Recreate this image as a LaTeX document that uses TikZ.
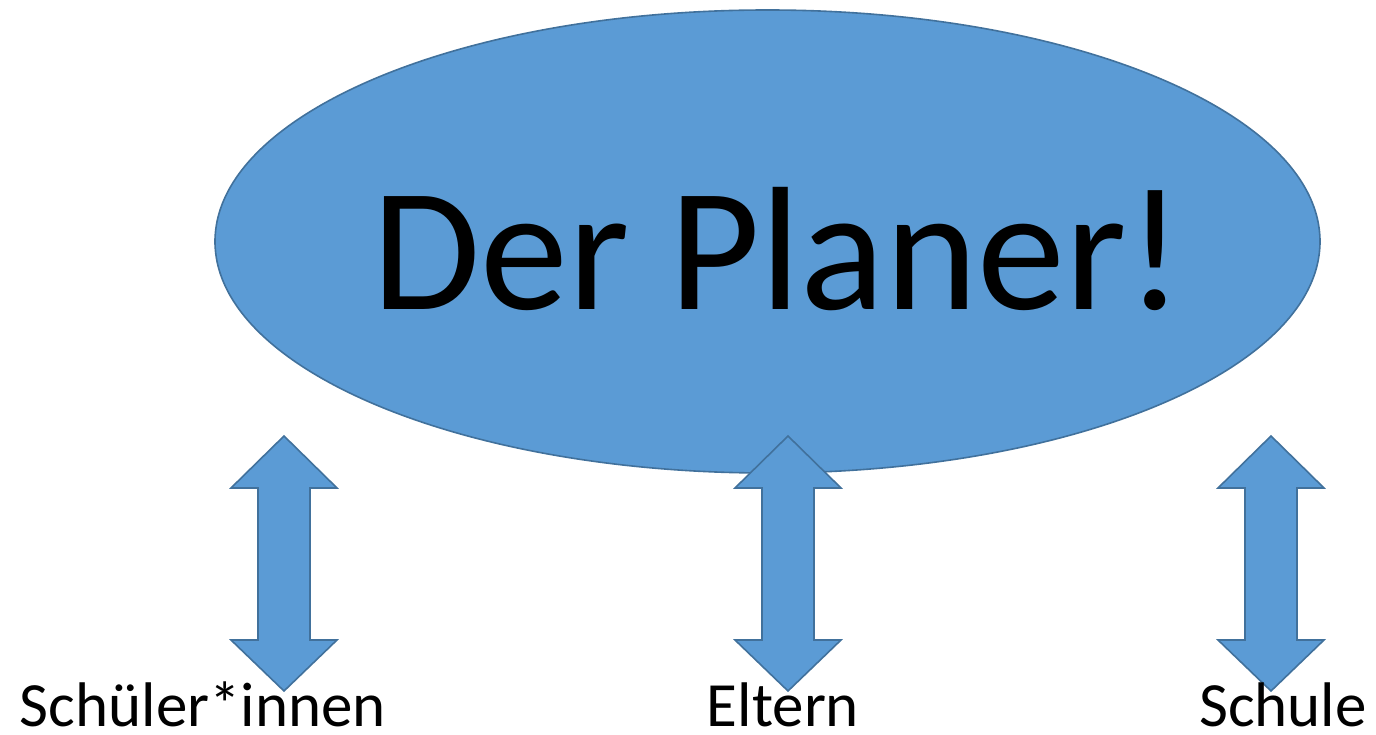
\documentclass[tikz,border=0pt]{standalone}
\usepackage{fontspec}
\setmainfont{Carlito}
\usetikzlibrary{shapes.geometric}
\definecolor{shapefill}{HTML}{5B9BD5}
\definecolor{shapeline}{HTML}{41719C}
\tikzset{
  blueshape/.style={fill=shapefill, draw=shapeline, line width=1.6pt, line join=miter},
  lbltext/.style={anchor=base, inner sep=0pt, font=\fontsize{63}{70}\selectfont},
}
\newcommand{\dblarrow}[2]{% #1 = centre x, #2 = name
  \draw[blueshape] (#1,436) coordinate (#2top) -- (#1+53,488) -- (#1+26,488) -- (#1+26,640) -- (#1+53,640)
    -- (#1,691) coordinate (#2bot) -- (#1-53,640) -- (#1-26,640) -- (#1-26,488) -- (#1-53,488) -- cycle;
}
\begin{document}
\begin{tikzpicture}[x=1pt,y=-1pt]
\useasboundingbox (0,0) rectangle (1376,735);
\node[blueshape, ellipse, minimum width=1105pt, minimum height=463pt, inner sep=0pt] (planer) at (767.5,241.5) {};
\dblarrow{284}{a1}
\dblarrow{788}{a2}
\dblarrow{1271}{a3}
\node[anchor=base, inner sep=0pt, font=\fontsize{176}{190}\selectfont] (title) at (778,310) {Der Planer!};
\node[lbltext] (schueler) at (203,726) {Schüler*innen};
\node[lbltext] (eltern) at (783,726) {Eltern};
\node[lbltext] (schule) at (1283,726) {Schule};
\end{tikzpicture}
\end{document}
